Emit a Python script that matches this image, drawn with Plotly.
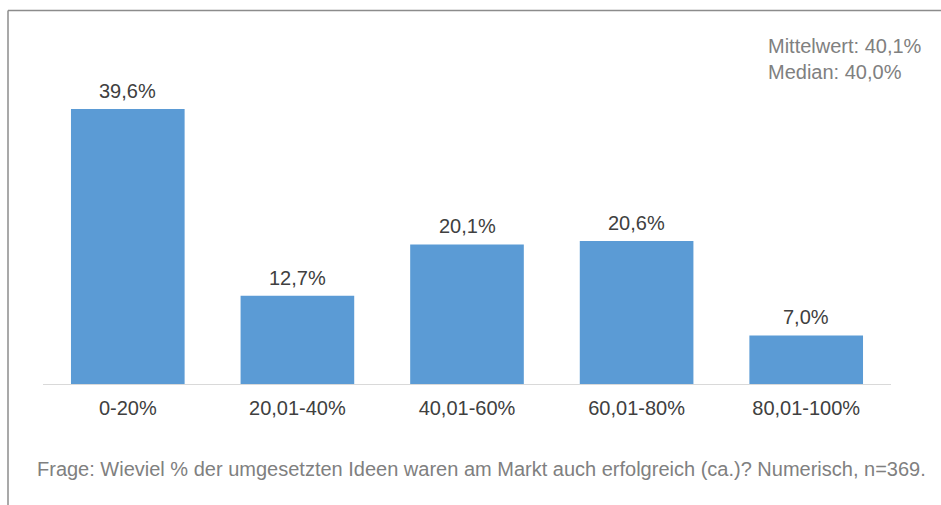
import plotly.graph_objects as go

# Antworten nach Erfolgsquote der umgesetzten Ideen
categories = ["0-20%", "20,01-40%", "40,01-60%", "60,01-80%", "80,01-100%"]
shares = [39.6, 12.7, 20.1, 20.6, 7.0]
value_labels = ["39,6%", "12,7%", "20,1%", "20,6%", "7,0%"]

stats_text = "Mittelwert: 40,1%<br>Median: 40,0%"
footnote = "Frage: Wieviel % der umgesetzten Ideen waren am Markt auch erfolgreich (ca.)? Numerisch, n=369."

W, H = 941, 505
ml, mr, mt, mb = 43, 50, 30, 121
pw, ph = W - ml - mr, H - mt - mb

def px_x(x):
    return (x - ml) / pw

def px_y(y):
    return (H - mb - y) / ph

FONT = "Liberation Sans, Arial, sans-serif"
FS = 20

fig = go.Figure(
    go.Bar(
        x=categories,
        y=shares,
        marker=dict(color="#5B9BD5", line=dict(width=0)),
        cliponaxis=False,
        width=0.67,
    )
)

# Wertbeschriftungen über den Balken
value_annotations = [
    dict(x=c, y=v, text=t, xref="x", yref="y", xanchor="center",
         yanchor="bottom", yshift=5, showarrow=False,
         font=dict(size=FS, color="#404040", family=FONT))
    for c, v, t in zip(categories, shares, value_labels)
]

fig.update_layout(
    width=W,
    height=H,
    margin=dict(l=ml, r=mr, t=mt, b=mb),
    paper_bgcolor="white",
    plot_bgcolor="white",
    showlegend=False,
    font=dict(family=FONT, size=FS, color="#404040"),
    xaxis=dict(
        showline=True,
        linecolor="#D9D9D9",
        linewidth=1,
        showgrid=False,
        ticks="",
        ticklabelstandoff=6,
        tickfont=dict(size=FS, color="#404040"),
        fixedrange=True,
    ),
    yaxis=dict(
        range=[0, 50.98],
        visible=False,
        showgrid=False,
        zeroline=False,
        fixedrange=True,
    ),
    shapes=[
        # Rahmen oben und links
        dict(type="line", xref="paper", yref="paper",
             x0=px_x(8), x1=px_x(W + 5), y0=px_y(10.5), y1=px_y(10.5),
             line=dict(color="#8C8C8C", width=1.5)),
        dict(type="line", xref="paper", yref="paper",
             x0=px_x(8), x1=px_x(8), y0=px_y(10.5), y1=px_y(H + 5),
             line=dict(color="#8C8C8C", width=1.5)),
    ],
    annotations=value_annotations + [
        dict(text=stats_text, xref="paper", yref="paper",
             x=px_x(766), y=px_y(33), xanchor="left", yanchor="top",
             align="left", showarrow=False,
             font=dict(size=FS, color="#808080", family=FONT)),
        dict(text=footnote, xref="paper", yref="paper",
             x=px_x(35), y=px_y(469), xanchor="left", yanchor="middle",
             showarrow=False,
             font=dict(size=FS, color="#808080", family=FONT)),
    ],
)

fig.write_html("out.html")
